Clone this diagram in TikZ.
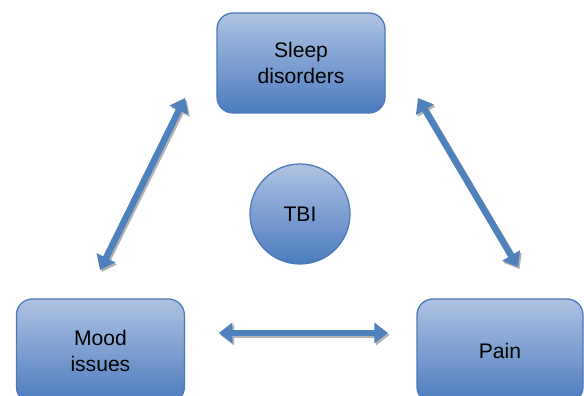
\documentclass[tikz,border=0pt]{standalone}
\usepackage{fontspec}
\setmainfont{Liberation Sans}
\usetikzlibrary{arrows.meta,positioning}
\definecolor{boxtop}{HTML}{AEC3E2}
\definecolor{boxbot}{HTML}{4B7BBE}
\definecolor{boxline}{HTML}{4A78B8}
\definecolor{arrowblue}{HTML}{4F81BD}
\tikzset{
  issue/.style={draw=boxline, line width=0.9pt, rounded corners=0.4cm,
    top color=boxtop, bottom color=boxbot, align=center,
    minimum width=4.2cm, minimum height=2.5cm,
    font=\fontsize{15}{18}\selectfont},
  cause/.style={circle, draw=boxline, line width=0.9pt,
    top color=boxtop, bottom color=boxbot, minimum size=2.5cm,
    font=\fontsize{15}{18}\selectfont},
  link/.style={line width=4.6pt, arrowblue,
    {Triangle[width=0.5cm,length=0.34cm]}-{Triangle[width=0.5cm,length=0.34cm]}},
  linkshadow/.style={link, gray!60, transform canvas={shift={(0.04,-0.05)}}}
}
\begin{document}
\begin{tikzpicture}
    \clip (0,0) rectangle (14.6,9.9);
    \useasboundingbox (0,0) rectangle (14.6,9.9);
    %%Cac o
    \node[issue] (sleep) at (7.525,8.325) {Sleep\\disorders};
    \node[issue, minimum height=2.6cm] (mood) at (2.51,1.125) {Mood\\issues};
    \node[issue, minimum height=2.6cm, minimum width=4.15cm] (pain) at (12.5,1.125) {Pain};
    \node[cause] (tbi) at (7.5,4.55) {TBI};
    %%Dau mut mui ten
    \coordinate (ls) at (4.625,7.45);
    \coordinate (lm) at (2.5,3.15);
    \coordinate (rs) at (10.45,7.45);
    \coordinate (rp) at (12.95,3.22);
    \coordinate (bm) at (5.47,1.575);
    \coordinate (bp) at (9.7,1.575);
    %%Bong
    \draw[linkshadow] (ls) -- (lm);
    \draw[linkshadow] (rs) -- (rp);
    \draw[linkshadow] (bm) -- (bp);
    %%Mui ten
    \draw[link] (ls) -- (lm);
    \draw[link] (rs) -- (rp);
    \draw[link] (bm) -- (bp);
\end{tikzpicture}
\end{document}
